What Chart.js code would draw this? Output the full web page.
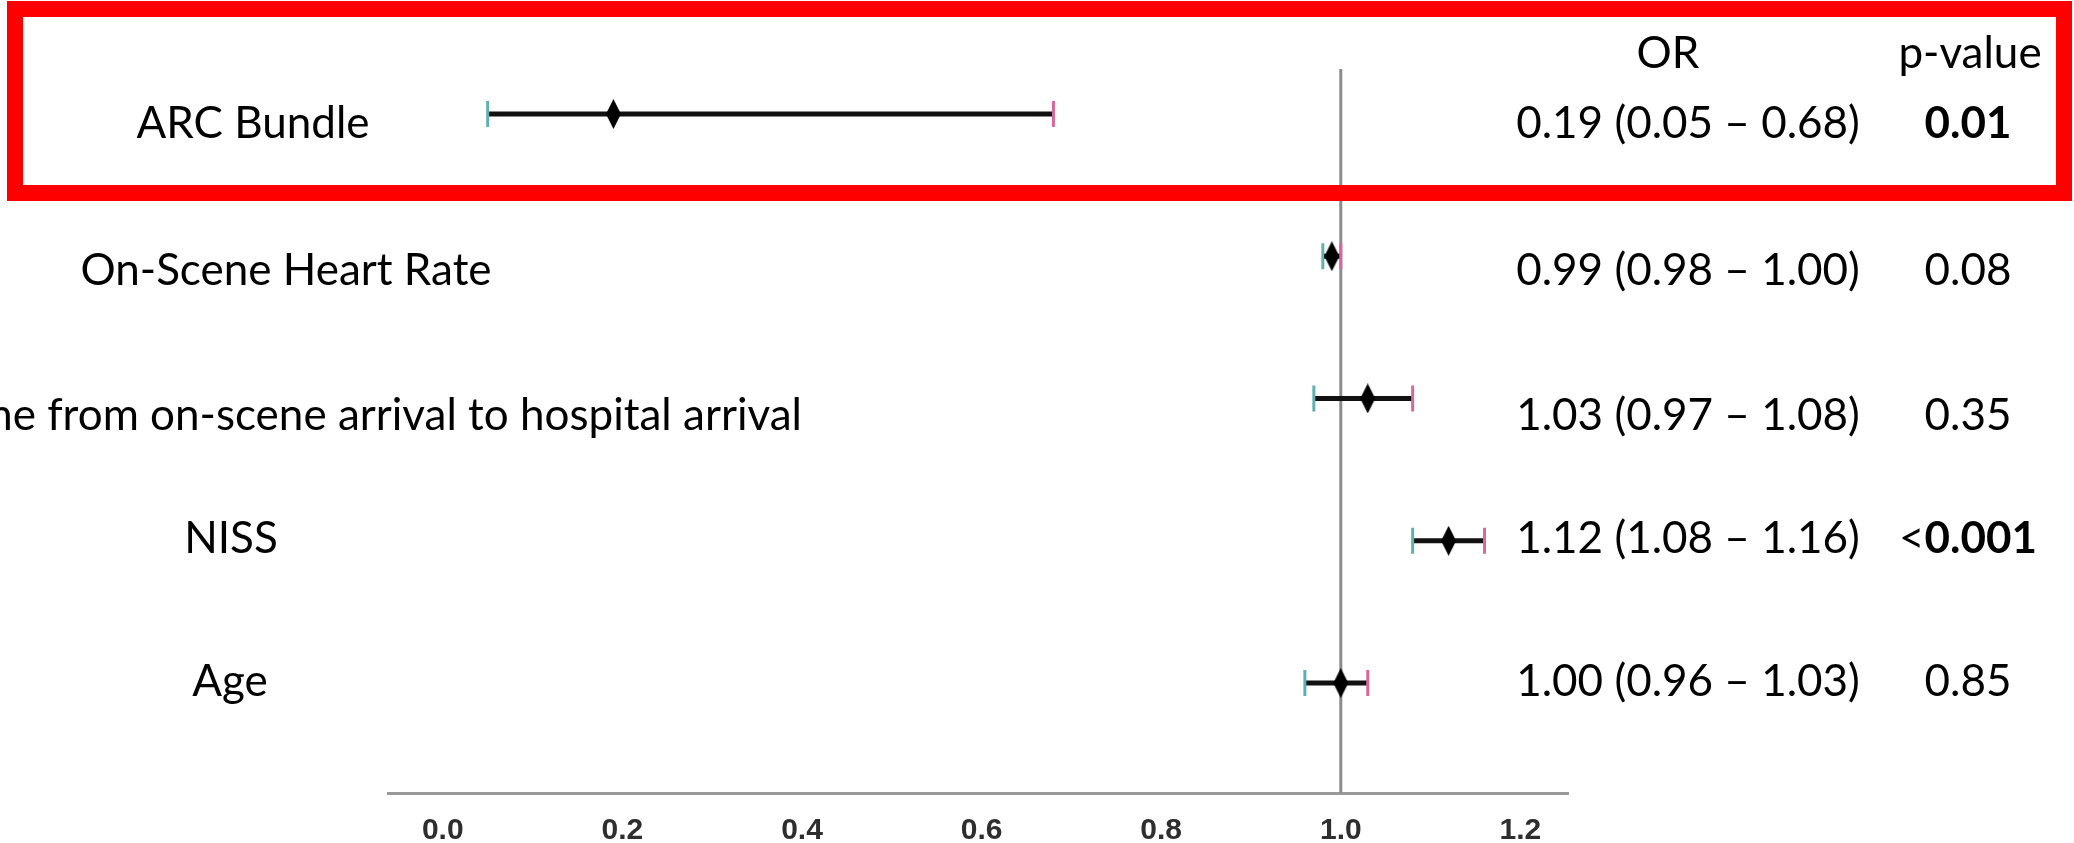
<!DOCTYPE html>
<html>
<head>
    <script src="https://cdn.jsdelivr.net/npm/chart.js"></script>
    <style>
        body {
            margin: 0;
            background: #ffffff;
        }
        .chart-container {
            width: 2074px;
            height: 843px;
            position: relative;
        }
    </style>
</head>
<body>

    <div class="chart-container">
        <canvas id="forestChart"></canvas>
    </div>

    <script>
        const variables = [
            'ARC Bundle',
            'On-Scene Heart Rate',
            'Time from on-scene arrival to hospital arrival',
            'NISS',
            'Age'
        ];
        const oddsRatio = [0.19, 0.99, 1.03, 1.12, 1.00];
        const ciLow = [0.05, 0.98, 0.97, 1.08, 0.96];
        const ciHigh = [0.68, 1.00, 1.08, 1.16, 1.03];
        const pValues = ['0.01', '0.08', '0.35', '<0.001', '0.85'];
        const pBold = [true, false, false, true, false];
        const tickValues = [0.0, 0.2, 0.4, 0.6, 0.8, 1.0, 1.2];
        const tickLabels = ['0.0', '0.2', '0.4', '0.6', '0.8', '1.0', '1.2'];

        // layout of the text columns (pixels)
        const labelCenterX = [253, 286, 371, 231, 230];
        const textOffsetY = [24, 29, 32, 12, 13];
        const orCenterX = 1688;
        const pCenterX = 1968;
        const yMin = -0.316, yMax = 4.773;

        // tall diamond used as the point marker
        const diamond = document.createElement('canvas');
        diamond.width = 15;
        diamond.height = 30;
        const dctx = diamond.getContext('2d');
        dctx.fillStyle = '#000000';
        dctx.beginPath();
        dctx.moveTo(7.5, 0);
        dctx.lineTo(15, 15);
        dctx.lineTo(7.5, 30);
        dctx.lineTo(0, 15);
        dctx.closePath();
        dctx.fill();

        const ciSets = variables.map((v, i) => ({
            label: v,
            type: 'line',
            data: [{ x: ciLow[i], y: i }, { x: ciHigh[i], y: i }],
            borderColor: '#111111',
            borderWidth: 5,
            pointStyle: 'line',
            pointRotation: 90,
            pointRadius: 13,
            pointBorderWidth: 3,
            pointBorderColor: ['#5fb0b0', '#d9679b'],
            order: 1
        }));

        const textPlugin = {
            id: 'forestText',
            afterDraw(chart) {
                const ctx = chart.ctx;
                const y = chart.scales.y;
                ctx.save();
                ctx.fillStyle = '#000000';
                ctx.textBaseline = 'alphabetic';
                ctx.textAlign = 'center';
                ctx.font = '44px Lato';
                ctx.fillText('OR', 1668, 68);
                ctx.fillText('p-value', 1970, 68);

                variables.forEach((name, i) => {
                    const base = y.getPixelForValue(i) + textOffsetY[i];
                    ctx.font = '44px Lato';
                    ctx.textAlign = 'center';
                    ctx.fillText(name, labelCenterX[i], base);
                    const orText = oddsRatio[i].toFixed(2) + ' (' + ciLow[i].toFixed(2) + ' \u2013 ' + ciHigh[i].toFixed(2) + ')';
                    ctx.fillText(orText, orCenterX, base);

                    // p-value, bold part drawn separately
                    let prefix = '', main = pValues[i];
                    if (main.startsWith('<')) { prefix = '<'; main = main.slice(1); }
                    ctx.font = '44px Lato';
                    const wPre = ctx.measureText(prefix).width;
                    ctx.font = (pBold[i] ? 'bold ' : '') + '44px Lato';
                    const wMain = ctx.measureText(main).width;
                    let x0 = pCenterX - (wPre + wMain) / 2;
                    ctx.textAlign = 'left';
                    ctx.font = '44px Lato';
                    ctx.fillText(prefix, x0, base);
                    ctx.font = (pBold[i] ? 'bold ' : '') + '44px Lato';
                    ctx.fillText(main, x0 + wPre, base);
                });

                // highlight box round the first row
                ctx.strokeStyle = '#ff0000';
                ctx.lineWidth = 16;
                ctx.strokeRect(15, 9, 2049, 184);
                ctx.restore();
            }
        };

        document.addEventListener('DOMContentLoaded', function () {
            const ctx = document.getElementById('forestChart').getContext('2d');
            new Chart(ctx, {
                type: 'scatter',
                data: {
                    datasets: [
                        {
                            label: 'Odds ratio',
                            data: oddsRatio.map((v, i) => ({ x: v, y: i })),
                            pointStyle: diamond,
                            order: 0
                        },
                        ...ciSets,
                        {
                            label: 'No effect',
                            type: 'line',
                            data: [{ x: 1, y: yMin }, { x: 1, y: yMax }],
                            borderColor: '#8c8c8c',
                            borderWidth: 3,
                            pointRadius: 0,
                            order: 2
                        }
                    ]
                },
                options: {
                    responsive: true,
                    maintainAspectRatio: false,
                    animation: false,
                    layout: {
                        padding: { left: 388, right: 506, top: 69, bottom: 0 }
                    },
                    plugins: {
                        legend: { display: false },
                        tooltip: { enabled: false }
                    },
                    scales: {
                        x: {
                            type: 'linear',
                            min: -0.061,
                            max: 1.253,
                            grid: { display: false },
                            border: { display: true, color: '#9a9a9a', width: 3 },
                            afterBuildTicks: function (scale) {
                                scale.ticks = tickValues.map(v => ({ value: v }));
                            },
                            afterFit: function (scale) {
                                scale.height = 50;
                            },
                            ticks: {
                                padding: 12,
                                color: '#2e2e2e',
                                font: { family: 'Liberation Sans Narrow, Liberation Sans', size: 30, weight: 'bold' },
                                callback: function (value, index) {
                                    return tickLabels[index];
                                }
                            }
                        },
                        y: {
                            type: 'linear',
                            reverse: true,
                            min: yMin,
                            max: yMax,
                            display: false
                        }
                    }
                },
                plugins: [textPlugin]
            });
        });
    </script>
</body>
</html>
